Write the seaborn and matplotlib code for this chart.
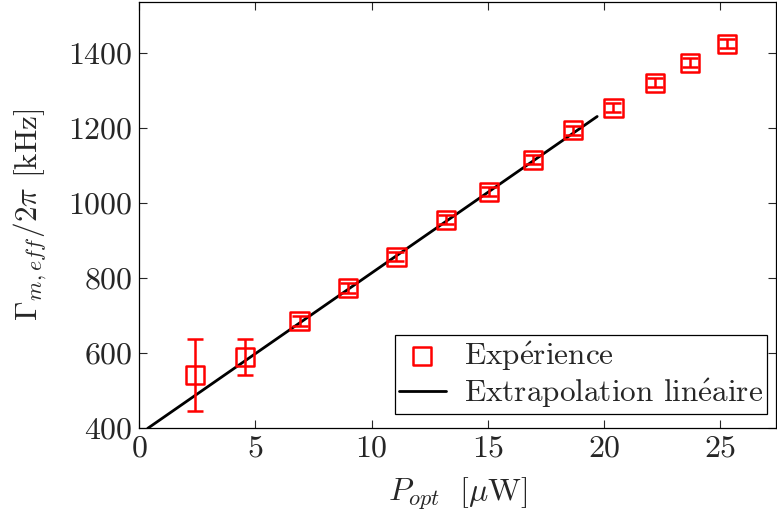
#!/usr/bin/env python3

# Effective mechanical damping vs optical power, with linear extrapolation
import matplotlib
matplotlib.use("Agg")
import matplotlib.pyplot as plt
import seaborn as sns

p_opt = [2.4, 4.55, 6.9, 9.0, 11.07, 13.18, 15.06, 16.95, 18.67, 20.4, 22.2, 23.7, 25.3]
gamma = [541, 589, 685, 773, 856, 955, 1029, 1115, 1193, 1253, 1320, 1373, 1424]
gamma_err = [97, 48, 14, 12, 12, 12, 12, 12, 12, 12, 12, 12, 12]

# linear fit used for the extrapolation
fit_slope = 43.0
fit_intercept = 383.0
fit_x = [0.37, 19.7]


def main():
    sns.set_theme(style="ticks")
    plt.rcParams["font.family"] = ["cmr10", "DejaVu Serif"]
    plt.rcParams["mathtext.fontset"] = "cm"
    plt.rcParams["axes.formatter.use_mathtext"] = True
    plt.rcParams["font.size"] = 22

    fig = plt.figure(figsize=(7.77, 5.2), dpi=100)
    ax = fig.add_axes([0.179, 0.177, 0.82, 0.819])

    # linear extrapolation
    fit_y = [fit_slope * x + fit_intercept for x in fit_x]
    sns.lineplot(x=fit_x, y=fit_y, color="black", linewidth=2, ax=ax,
                 label=r"Extrapolation lin$\acute{\mathrm{e}}$aire", zorder=2)

    # error bars then square markers
    ax.errorbar(p_opt, gamma, yerr=gamma_err, fmt="none", ecolor="red",
                elinewidth=1.8, capsize=6, capthick=1.8, zorder=3)
    sns.scatterplot(x=p_opt, y=gamma, marker="s", s=170, facecolor="none",
                    edgecolor="red", linewidth=1.8, ax=ax,
                    label=r"Exp$\acute{\mathrm{e}}$rience", zorder=4)

    ax.set_xlim(0, 27.4)
    ax.set_ylim(400, 1535)
    ax.set_xticks([0, 5, 10, 15, 20, 25])
    ax.set_yticks([400, 600, 800, 1000, 1200, 1400])
    ax.tick_params(direction="in", top=True, right=True, length=6,
                   width=0.8, labelsize=23, pad=5)
    for s in ax.spines.values():
        s.set_linewidth(0.9)
        s.set_color("black")

    ax.set_xlabel(r"$P_{opt}\ \ [\mu\mathrm{W}]$", fontsize=23, labelpad=10)
    ax.set_ylabel(r"$\Gamma_{m,eff}/2\pi$ [kHz]", fontsize=22.5, labelpad=13)

    handles, labels = ax.get_legend_handles_labels()
    leg = ax.legend(handles[::-1], labels[::-1], loc="lower right",
                    bbox_to_anchor=(0.986, 0.033), borderaxespad=0,
                    fancybox=False, edgecolor="black", framealpha=1,
                    fontsize=22.5, handlelength=1.5, handletextpad=0.6,
                    borderpad=0.12, labelspacing=0.12)
    leg.get_frame().set_linewidth(0.9)

    plt.savefig("out.png", dpi=100)


if __name__ == '__main__':
    main()
